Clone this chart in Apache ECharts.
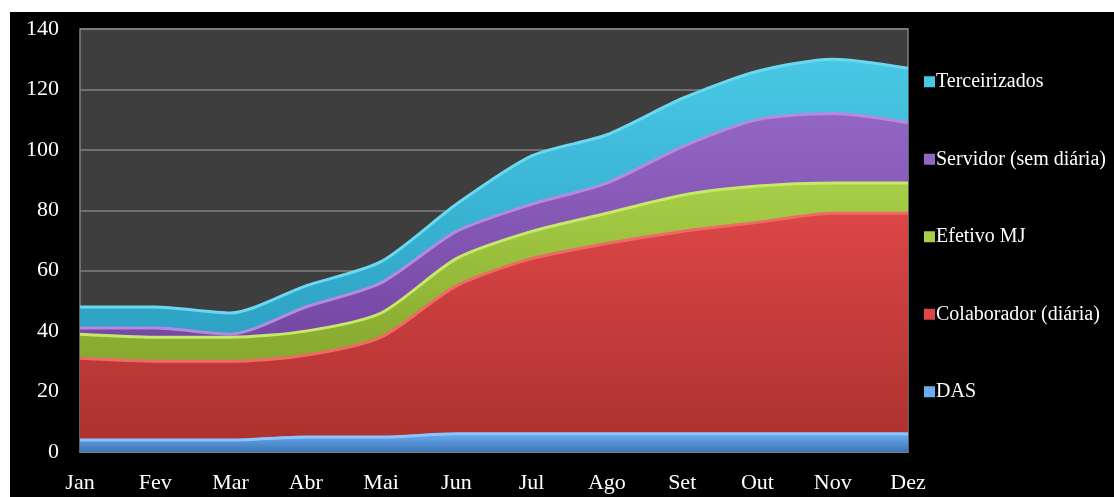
<!DOCTYPE html>
<html>
<head>
<meta charset="utf-8">
<script src="https://cdn.jsdelivr.net/npm/echarts@6/dist/echarts.min.js"></script>
<style>
html,body{margin:0;padding:0;background:#ffffff;width:1114px;height:497px;overflow:hidden;}
#chart{position:absolute;left:10px;top:12px;width:1104px;height:485px;background:#000;}
</style>
</head>
<body>
<div id="chart"></div>
<script>
const categories = ['Jan','Fev','Mar','Abr','Mai','Jun','Jul','Ago','Set','Out','Nov','Dez'];
const das = [4, 4, 4, 5, 5, 6, 6, 6, 6, 6, 6, 6];
const colaborador = [27, 26, 26, 27, 33, 49, 58, 63, 67, 70, 73, 73];
const efetivo = [8, 8, 8, 8, 8, 9, 9, 10, 12, 12, 10, 10];
const servidor = [2, 3, 1, 8, 10, 9, 9, 10, 16, 22, 23, 20];
const terceirizados = [7, 7, 7, 7, 7, 9, 16, 16, 16, 16, 18, 18];
const yTicks = [0, 20, 40, 60, 80, 100, 120, 140];

const names = ['DAS','Colaborador (diária)','Efetivo MJ','Servidor (sem diária)','Terceirizados'];
const values = [das, colaborador, efetivo, servidor, terceirizados];
const colors = [
  ['#6aaef0','#3f74b8','#8cc4ff'],
  ['#dc4646','#ac3230','#f06a64'],
  ['#a8cf48','#86a82e','#c8e86a'],
  ['#9466c4','#7448a4','#b48ae0'],
  ['#48c8e4','#2ea2c4','#6ad8f0']
];

const chart = echarts.init(document.getElementById('chart'));
const serif = '"Liberation Serif","DejaVu Serif",serif';
chart.setOption({
  backgroundColor: '#000',
  animation: false,
  grid: {
    left: 70, right: 206, top: 17, bottom: 45,
    show: true, backgroundColor: '#3e3e3e', borderColor: '#808080', borderWidth: 1.5
  },
  legend: {
    orient: 'vertical',
    left: 909, top: 53,
    itemWidth: 11, itemHeight: 11,
    itemGap: 54,
    icon: 'rect',
    data: ['Terceirizados','Servidor (sem diária)','Efetivo MJ','Colaborador (diária)','DAS'],
    textStyle: { color: '#ffffff', fontFamily: serif, fontSize: 20, lineHeight: 23.5, padding: [0,0,0,-4] }
  },
  xAxis: {
    type: 'category',
    boundaryGap: false,
    data: categories,
    axisLine: { show: true, lineStyle: { color: '#808080', width: 1.5 } },
    axisTick: { show: false },
    axisLabel: { color: '#ffffff', fontFamily: serif, fontSize: 22, margin: 20 }
  },
  yAxis: {
    type: 'value',
    min: yTicks[0], max: yTicks[yTicks.length-1], interval: yTicks[1]-yTicks[0],
    axisLine: { show: false },
    axisTick: { show: false },
    splitLine: { lineStyle: { color: '#808080', width: 1.5 } },
    axisLabel: { color: '#ffffff', fontFamily: serif, fontSize: 22, margin: 21 }
  },
  series: names.map((n, i) => ({
    name: n,
    type: 'line',
    stack: 'total',
    smooth: 0.25,
    symbol: 'none',
    data: values[i],
    itemStyle: { color: colors[i][0] },
    lineStyle: { color: colors[i][2], width: 3 },
    areaStyle: {
      opacity: 1,
      color: new echarts.graphic.LinearGradient(0, 0, 0, 1, [
        { offset: 0, color: colors[i][0] },
        { offset: 1, color: colors[i][1] }
      ])
    }
  }))
});
</script>
</body>
</html>
